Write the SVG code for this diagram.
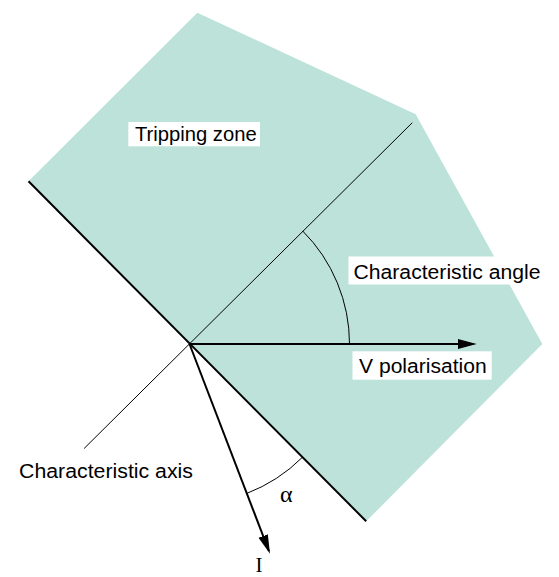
<svg xmlns="http://www.w3.org/2000/svg" width="559" height="577" viewBox="0 0 559 577">
  <style>
    .lbl { font-family: "Liberation Sans", Arial, sans-serif; font-size: 20px; fill: #000; }
    .sym { font-family: "Liberation Serif", "Times New Roman", serif; fill: #000; }
    .box { fill: #ffffff; }
    .thick { stroke: #000; stroke-width: 2; fill: none; }
    .thin { stroke: #000; stroke-width: 1; fill: none; }
  </style>
  <defs>
    <marker id="arrow" markerUnits="userSpaceOnUse" markerWidth="20" markerHeight="11" refX="16" refY="5" orient="auto">
      <path d="M0,0 L19,5 L0,10 z" fill="#000"/>
    </marker>
  </defs>
  <rect width="559" height="577" fill="#ffffff"/>
  <g id="tripping-zone">
    <polygon points="28.5,181.3 197.3,12.7 415.7,114.3 542.3,344 366.2,521.3" fill="#bce2da"/>
  </g>
  <g id="connectors">
    <line id="characteristic-axis-line" class="thin" x1="84.1" y1="448.5" x2="412.3" y2="122.7"/>
    <line id="boundary" class="thick" x1="28.5" y1="181.3" x2="366.2" y2="521.3"/>
    <line id="v-arrow" class="thick" x1="189.5" y1="344" x2="473.7" y2="344" marker-end="url(#arrow)"/>
    <line id="i-arrow" class="thick" x1="189.5" y1="344" x2="268.9" y2="551" marker-end="url(#arrow)"/>
    <path id="char-angle-arc" class="thin" d="M302.6,230.9 A160,160 0 0 1 349.5,344"/>
    <path id="alpha-arc" class="thin" d="M246.8,493.4 A160,160 0 0 0 302.6,457.1"/>
  </g>
  <g id="label-tripping-zone">
    <rect class="box" x="128.3" y="122" width="131.7" height="24.3"/>
    <text class="lbl" x="135" y="140.7" textLength="121.7" lengthAdjust="spacingAndGlyphs">Tripping zone</text>
  </g>
  <g id="label-characteristic-angle">
    <rect class="box" x="348.5" y="256.5" width="195.5" height="28"/>
    <text class="lbl" x="353.5" y="278.5" textLength="187" lengthAdjust="spacingAndGlyphs">Characteristic angle</text>
  </g>
  <g id="label-v-polarisation">
    <rect class="box" x="352.5" y="351.3" width="139.2" height="28.4"/>
    <text class="lbl" x="359" y="373.3" textLength="127.7" lengthAdjust="spacingAndGlyphs">V polarisation</text>
  </g>
  <g id="label-characteristic-axis">
    <text class="lbl" x="19" y="478" textLength="174" lengthAdjust="spacingAndGlyphs">Characteristic axis</text>
  </g>
  <g id="label-alpha">
    <text class="sym" x="280" y="501.5" font-size="24">α</text>
  </g>
  <g id="label-i">
    <text class="sym" x="255.5" y="572" font-size="21">I</text>
  </g>
</svg>
